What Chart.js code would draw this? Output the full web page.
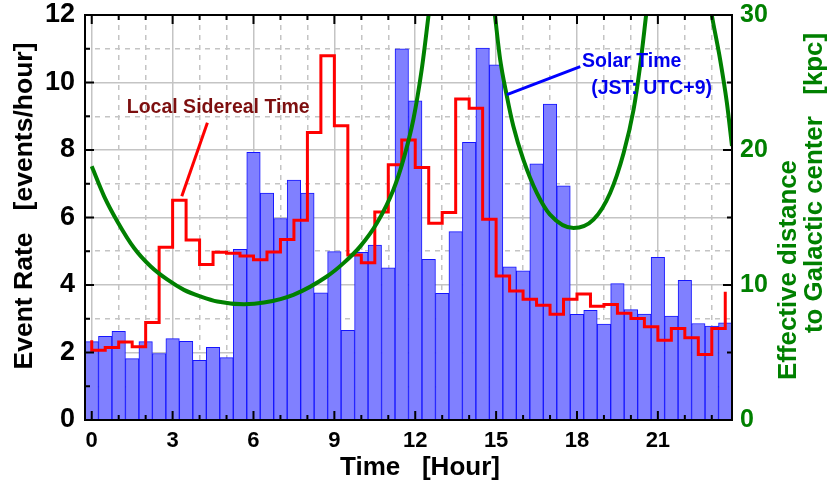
<!DOCTYPE html>
<html lang="en">
<head>
<meta charset="UTF-8">
<title>Event rate vs time of day</title>
<script src="https://cdn.jsdelivr.net/npm/chart.js"></script>
<style>
    body { margin: 0; background: #fff; }
    #chart { display: block; }
</style>
</head>
<body>
<canvas id="chart" width="828" height="485"></canvas>
<script>
// half-hour bins (centre of each bin, hour)
const binHours = [0, 0.5, 1, 1.5, 2, 2.5, 3, 3.5, 4, 4.5, 5, 5.5, 6, 6.5, 7, 7.5,
    8, 8.5, 9, 9.5, 10, 10.5, 11, 11.5, 12, 12.5, 13, 13.5, 14, 14.5, 15, 15.5,
    16, 16.5, 17, 17.5, 18, 18.5, 19, 19.5, 20, 20.5, 21, 21.5, 22, 22.5, 23, 23.5];

// solar time histogram [events/hour]
const eventRate = [2.32, 2.48, 2.63, 1.82, 2.32, 1.97, 2.41, 2.33, 1.77, 2.15, 1.85, 5.06,
    7.93, 6.72, 5.97, 7.11, 6.72, 3.77, 4.99, 2.66, 4.97, 5.18, 4.51, 11.0,
    9.46, 4.76, 3.75, 5.58, 8.23, 11.02, 10.52, 4.54, 4.42, 7.59, 9.36, 6.94,
    3.13, 3.25, 2.84, 4.04, 3.27, 3.14, 4.82, 3.08, 4.14, 2.86, 2.78, 2.88];

// local sidereal time, step line (first value = start of the line at 0 h)
const lstHours = [0, ...binHours];
const lstRate = [2.36, 2.07, 2.15, 2.31, 2.17, 2.89, 5.12, 6.51, 5.33, 4.61, 4.97,
    4.94, 4.86, 4.75, 4.98, 5.35, 5.92, 8.52, 10.79, 8.72, 4.89,
    4.66, 6.16, 7.56, 8.30, 7.48, 5.83, 6.15, 9.51, 9.24, 5.95,
    4.27, 3.82, 3.58, 3.40, 3.13, 3.58, 3.73, 3.37, 3.42, 3.16,
    3.01, 2.76, 2.36, 2.71, 2.44, 1.94, 2.71, 3.80];

// effective distance to the galactic centre [kpc], null = off the top of the plot
const gcHours = [0, 0.46, 0.95, 1.57, 2.19, 2.81, 3.42, 4.04, 4.66, 5.65, 6.39, 7.48, 8.72,
    9.34, 9.96, 10.58, 11.19, 11.56, 11.93, 12.24, 12.49, 12.6, null,
    14.88, 14.96, 15.15, 15.4, 15.64, 16.01, 16.51, 17.0, 17.87, 18.61, 19.23, 19.73,
    20.1, 20.34, 20.56, 20.64, null,
    22.92, 23.0, 23.31, 23.56, 23.75];
const gcDist = [18.79, 16.57, 14.71, 12.74, 11.37, 10.39, 9.64, 9.15, 8.78, 8.58, 8.70, 9.27, 10.63,
    11.62, 12.86, 14.59, 17.06, 19.29, 22.26, 25.96, 29.92, 31.7, null,
    31.3, 29.92, 26.7, 23.98, 21.76, 19.29, 16.82, 15.21, 14.22, 14.84, 16.82, 19.78,
    23.0, 26.2, 29.92, 31.3, null,
    31.0, 30.0, 26.7, 23.5, 20.3];

const hourGrid = [0, 1, 2, 3, 4, 5, 6, 7, 8, 9, 10, 11, 12, 13, 14, 15, 16, 17, 18, 19, 20, 21, 22, 23];
const hourLabels = [0, 3, 6, 9, 12, 15, 18, 21];
const rateGrid = [0, 1, 2, 3, 4, 5, 6, 7, 8, 9, 10, 11, 12];
const rateLabels = [0, 2, 4, 6, 8, 10, 12];
const distGrid = [0, 5, 10, 15, 20, 25, 30];
const distLabels = [0, 10, 20, 30];

const GREEN = '#008000';
const GRID = '#c4c4c4';
const FONT = 'Liberation Sans, Arial, sans-serif';

// frame and inward tick marks, drawn over the bars
const framePlugin = {
    id: 'frame',
    afterDatasetsDraw(chart) {
        const { ctx, chartArea: a } = chart;
        const { x, y, y2 } = chart.scales;
        ctx.save();
        ctx.strokeStyle = '#000';
        ctx.lineWidth = 2;
        ctx.beginPath();
        hourGrid.forEach(h => {
            const px = x.getPixelForValue(h);
            const len = h % 3 === 0 ? 9 : 5;
            ctx.moveTo(px, a.bottom); ctx.lineTo(px, a.bottom - len);
            ctx.moveTo(px, a.top); ctx.lineTo(px, a.top + len);
        });
        rateGrid.forEach(v => {
            const py = y.getPixelForValue(v);
            const len = v % 2 === 0 ? 9 : 5;
            ctx.moveTo(a.left, py); ctx.lineTo(a.left + len, py);
        });
        distGrid.forEach(d => {
            const py = y2.getPixelForValue(d);
            const len = d % 10 === 0 ? 9 : 5;
            ctx.moveTo(a.right, py); ctx.lineTo(a.right - len, py);
        });
        ctx.stroke();
        ctx.strokeRect(a.left, a.top, a.right - a.left, a.bottom - a.top);

        // labels with pointer lines (positions in hour / rate units)
        const P = (h, v) => [x.getPixelForValue(h), y.getPixelForValue(v)];
        ctx.lineWidth = 3;
        ctx.strokeStyle = '#ff0000';
        ctx.beginPath();
        ctx.moveTo(...P(4.29, 8.81)); ctx.lineTo(...P(3.34, 6.63));
        ctx.stroke();
        ctx.strokeStyle = '#0000ff';
        ctx.beginPath();
        ctx.moveTo(...P(18.12, 10.47)); ctx.lineTo(...P(15.40, 9.64));
        ctx.stroke();

        ctx.font = 'bold 19.5px ' + FONT;
        ctx.textAlign = 'center';
        ctx.textBaseline = 'alphabetic';
        ctx.fillStyle = '#7d0f0f';
        ctx.fillText('Local Sidereal Time', ...P(4.69, 9.11));
        ctx.fillStyle = '#0000ee';
        ctx.fillText('Solar Time', ...P(20.03, 10.45));
        ctx.fillText('(JST: UTC+9)', ...P(20.77, 9.67));
        ctx.restore();
    }
};

// axis titles, squeezed to the width they have in the original
function fitText(ctx, text, x, y, width, rotate) {
    ctx.save();
    ctx.translate(x, y);
    if (rotate) ctx.rotate(-Math.PI / 2);
    const w = ctx.measureText(text).width;
    ctx.scale(width / w, 1);
    ctx.fillText(text, 0, 0);
    ctx.restore();
}

const titlePlugin = {
    id: 'titles',
    afterDraw(chart) {
        const ctx = chart.ctx;
        ctx.save();
        ctx.textAlign = 'center';
        ctx.textBaseline = 'alphabetic';
        ctx.fillStyle = '#000';
        ctx.font = 'bold 25px ' + FONT;
        fitText(ctx, 'Event Rate   [events/hour]', 32, 206, 327, true);
        ctx.font = 'bold 26px ' + FONT;
        fitText(ctx, 'Time   [Hour]', 420, 475, 160, false);
        ctx.fillStyle = GREEN;
        fitText(ctx, 'Effective distance', 796, 270, 220, true);
        fitText(ctx, 'to Galactic center   [kpc]', 822, 183, 300, true);
        ctx.restore();
    }
};

const dashOdd = (ctx, step) => (ctx.tick && ctx.tick.value % step !== 0 ? [5, 5] : []);

new Chart(document.getElementById('chart'), {
    type: 'bar',
    data: {
        datasets: [
            {
                type: 'line',
                label: 'Effective distance',
                data: gcHours.map((h, i) => ({ x: h, y: gcDist[i] })),
                yAxisID: 'y2',
                borderColor: GREEN,
                borderWidth: 4,
                pointRadius: 0,
                cubicInterpolationMode: 'monotone',
                spanGaps: false,
                clip: 1,
                order: 0
            },
            {
                type: 'line',
                label: 'Local Sidereal Time',
                data: lstHours.map((h, i) => ({ x: h, y: lstRate[i] })),
                yAxisID: 'y',
                borderColor: '#ff0000',
                borderWidth: 3,
                borderJoinStyle: 'miter',
                pointRadius: 0,
                stepped: 'before',
                order: 1
            },
            {
                label: 'Solar Time',
                data: binHours.map((h, i) => ({ x: h, y: eventRate[i] })),
                yAxisID: 'y',
                backgroundColor: '#8080ff',
                borderColor: '#1414ff',
                borderWidth: 1,
                barPercentage: 1,
                categoryPercentage: 1,
                order: 2
            }
        ]
    },
    options: {
        responsive: false,
        animation: false,
        devicePixelRatio: 1,
        layout: { padding: { top: 15, left: 0, right: 0, bottom: 0 } },
        plugins: { legend: { display: false }, tooltip: { enabled: false } },
        scales: {
            x: {
                type: 'linear',
                min: -0.25,
                max: 23.75,
                offset: false,
                afterBuildTicks: s => { s.ticks = hourGrid.map(v => ({ value: v })); },
                afterFit: s => { s.height = 65; s.paddingLeft = 0; s.paddingRight = 0; },
                grid: { color: GRID, lineWidth: 1.5, drawTicks: false, offset: false },
                border: { display: false, dash: ctx => dashOdd(ctx, 3) },
                ticks: {
                    autoSkip: false,
                    maxRotation: 0,
                    padding: 8,
                    color: '#000',
                    font: { family: FONT, size: 22, weight: 'bold' },
                    callback: v => (hourLabels.includes(v) ? String(v) : '')
                }
            },
            y: {
                position: 'left',
                min: 0,
                max: 12,
                afterBuildTicks: s => { s.ticks = rateGrid.map(v => ({ value: v })); },
                afterFit: s => { s.width = 85; s.paddingTop = 0; s.paddingBottom = 0; },
                grid: { color: GRID, lineWidth: 1.5, drawTicks: false },
                border: { display: false, dash: ctx => dashOdd(ctx, 2) },
                ticks: {
                    autoSkip: false,
                    padding: 10,
                    color: '#000',
                    font: { family: FONT, size: 27, weight: 'bold' },
                    callback: v => (rateLabels.includes(v) ? String(v) : '')
                }
            },
            y2: {
                position: 'right',
                min: 0,
                max: 30,
                afterBuildTicks: s => { s.ticks = distLabels.map(v => ({ value: v })); },
                afterFit: s => { s.width = 96; s.paddingTop = 0; s.paddingBottom = 0; },
                grid: { drawOnChartArea: false, drawTicks: false },
                border: { display: false },
                ticks: {
                    autoSkip: false,
                    padding: 8,
                    color: GREEN,
                    font: { family: FONT, size: 25, weight: 'bold' }
                }
            }
        }
    },
    plugins: [framePlugin, titlePlugin]
});
</script>
</body>
</html>
